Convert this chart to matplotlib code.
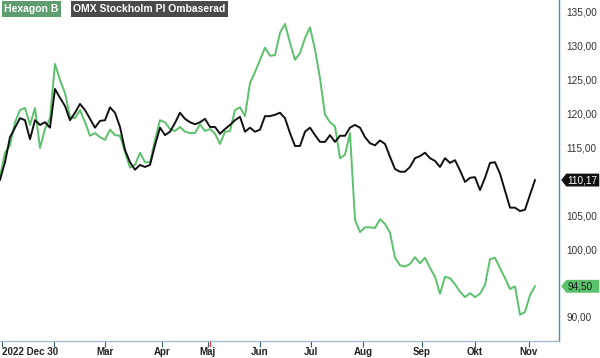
import numpy as np
import matplotlib
matplotlib.use('Agg')
import matplotlib.pyplot as plt
from matplotlib.patches import Polygon
from matplotlib.transforms import blended_transform_factory

plt.rcParams['font.family'] = ['Liberation Sans', 'DejaVu Sans']

# one sample every second trading day, starting 2022-12-30
hexagon = [110.7, 114.2, 115.3, 118.7, 120.5, 120.8, 118.3, 120.8, 114.9, 117.7,
           119.3, 127.3, 124.9, 123.0, 119.5, 119.3, 120.5, 118.7, 116.7, 117.1,
           116.5, 116.1, 117.6, 116.8, 116.7, 114.3, 112.0, 112.4, 114.2, 112.8,
           112.8, 116.1, 119.0, 118.7, 117.7, 117.4, 118.0, 117.3, 117.1, 117.1,
           118.4, 117.4, 117.7, 117.0, 115.5, 117.3, 117.4, 120.5, 120.9, 119.6,
           124.5, 126.1, 127.9, 129.7, 128.5, 128.6, 131.9, 133.2, 130.4, 127.9,
           128.9, 131.1, 132.7, 129.4, 125.2, 119.8, 118.7, 118.1, 113.4, 113.9,
           117.1, 104.3, 102.5, 103.2, 103.2, 103.1, 104.4, 103.7, 102.4, 98.7,
           97.6, 97.4, 97.8, 98.8, 97.9, 98.7, 97.2, 95.9, 93.4, 95.9,
           95.7, 94.8, 93.7, 92.9, 93.5, 92.9, 93.4, 94.7, 98.5, 98.7,
           97.2, 95.7, 94.1, 94.5, 90.3, 90.7, 93.2, 94.50]

omx = [110.2, 112.8, 116.5, 117.9, 119.3, 119.0, 116.2, 119.0, 118.3, 118.7,
       117.9, 123.6, 122.3, 121.1, 119.0, 120.1, 121.4, 120.5, 119.2, 117.9,
       118.9, 119.0, 120.9, 120.1, 118.0, 114.6, 112.8, 111.7, 112.4, 112.1,
       112.4, 115.3, 117.9, 116.8, 117.3, 118.6, 120.1, 119.2, 118.7, 118.4,
       118.7, 119.2, 118.0, 118.0, 117.0, 117.7, 118.3, 119.0, 119.5, 117.3,
       117.9, 117.3, 117.6, 119.6, 119.6, 119.8, 120.1, 119.3, 117.1, 115.2,
       115.2, 117.3, 117.9, 116.8, 115.8, 115.8, 116.8, 115.8, 116.7, 116.7,
       117.9, 118.3, 117.9, 116.5, 115.6, 115.3, 116.0, 115.5, 113.6, 111.8,
       111.4, 111.4, 112.1, 113.4, 113.7, 114.2, 113.4, 113.0, 112.1, 113.4,
       112.7, 113.1, 111.6, 109.9, 110.5, 110.6, 108.7, 110.5, 112.7, 112.8,
       111.1, 108.6, 106.1, 106.1, 105.6, 105.8, 108.0, 110.17]

tick_pos = [0.4, 10.8, 21.0, 32.4, 41.6, 52.0, 62.2, 72.6, 84.4, 95.0, 105.8]
tick_labels = ['2022 Dec 30', '', 'Mar', 'Apr', 'Maj', 'Jun', 'Jul', 'Aug', 'Sep', 'Okt', 'Nov']
red_tick = 42.0
y_ticks = [90, 95, 100, 105, 110, 115, 120, 125, 130, 135]

green = '#5cc16c'
spine_col = '#5a87a8'

fig = plt.figure(figsize=(6, 3.58), dpi=100)
ax = fig.add_axes([0, 0.0475, 559 / 600, 0.9525])

x = np.arange(len(hexagon))
ax.plot(x, hexagon, color=green, lw=1.4, solid_joinstyle='round')
ax.plot(x, omx, color='#111111', lw=1.4, solid_joinstyle='round')

ax.set_xlim(0, 111.8)
ax.set_ylim(86.43, 136.73)

for s in ['top', 'left']:
    ax.spines[s].set_visible(False)
ax.spines['right'].set_color(spine_col)
ax.spines['bottom'].set_color('#9fbdd2')
ax.spines['right'].set_linewidth(1.0)
ax.spines['bottom'].set_linewidth(1.0)

ax.set_xticks(tick_pos)
ax.set_xticklabels(tick_labels, fontsize=7, fontweight='bold', color='#222222')
ax.tick_params(axis='x', length=4, width=0.8, color='#3d5a6c', pad=0.5)
lbls = ax.get_xticklabels()
lbls[0].set_horizontalalignment('left')
lbls[0].set_x(0)

# the last-value tags take the place of ticks they would cover
last_vals = [omx[-1], hexagon[-1]]
shown = [v for v in y_ticks if min(abs(v - lv) for lv in last_vals) > 1.2]
ax.yaxis.tick_right()
ax.set_yticks(shown)
ax.set_yticklabels(['{:.2f}'.format(v).replace('.', ',') for v in shown],
                   fontsize=7.2, color='#333333')
ax.tick_params(axis='y', length=0, pad=5.5)

# red marker tick on the time axis
ax.plot([red_tick, red_tick], [0, -0.014], color='#e83a3a', lw=1,
        transform=blended_transform_factory(ax.transData, ax.transAxes), clip_on=False)

# last-value tags
tr = blended_transform_factory(ax.transAxes, ax.transData)
def tag(val, fc, tc):
    h = 0.95
    poly = Polygon([(1.004, val), (1.013, val + h), (1.072, val + h),
                    (1.072, val - h), (1.013, val - h)], closed=True,
                   transform=tr, clip_on=False, fc=fc, ec='none')
    ax.add_patch(poly)
    ax.text(1.015, val, '{:.2f}'.format(val).replace('.', ','), transform=tr,
            fontsize=7.2, color=tc, va='center', ha='left')

tag(omx[-1], '#111111', 'white')
tag(hexagon[-1], green, '#1a1a1a')

# legend boxes
fig.text(0.007, 0.975, 'Hexagon B', fontsize=7.5, fontweight='bold', color='white',
         va='center', ha='left',
         bbox=dict(boxstyle='square,pad=0.25', fc='#5e9e6e', ec='none'))
fig.text(0.122, 0.975, 'OMX Stockholm PI Ombaserad', fontsize=7.5, fontweight='bold',
         color='white', va='center', ha='left',
         bbox=dict(boxstyle='square,pad=0.25', fc='#4a4a4a', ec='none'))

fig.savefig('out.png', dpi=100)
